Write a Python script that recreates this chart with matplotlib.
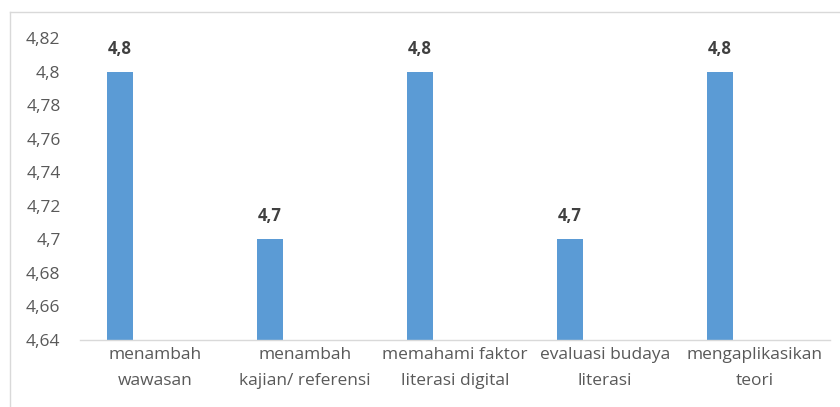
import matplotlib
matplotlib.use("Agg")
import matplotlib.pyplot as plt
from matplotlib.ticker import FuncFormatter, MultipleLocator
from matplotlib.lines import Line2D

categories = ["menambah\nwawasan", "menambah\nkajian/ referensi", "memahami faktor\nliterasi digital",
              "evaluasi budaya\nliterasi", "mengaplikasikan\nteori"]
values = [4.8, 4.7, 4.8, 4.7, 4.8]
value_labels = ["4,8", "4,7", "4,8", "4,7", "4,8"]

plt.rcParams['font.family'] = ['Open Sans', 'DejaVu Sans']

fig = plt.figure(figsize=(8.4, 4.07), dpi=100)
ax = fig.add_axes([80/840, (407-340)/407, (830-80)/840, (340-38)/407])

offset = -0.235
width = 0.175
xs = [i + offset for i in range(len(categories))]
ax.bar(xs, values, width=width, color="#5B9BD5", bottom=0)

for x, v, lab in zip(xs, values, value_labels):
    ax.annotate(lab, (x, v), xytext=(0, 10), textcoords="offset points",
                ha="center", va="bottom", fontsize=12, fontweight="bold", color="#404040")

ax.set_ylim(4.64, 4.82)
ax.set_xlim(-0.5, len(categories) - 0.5)
ax.yaxis.set_major_locator(MultipleLocator(0.02))

def fmt(v, pos):
    s = f"{v:.2f}".rstrip('0').rstrip('.')
    return s.replace('.', ',')

ax.yaxis.set_major_formatter(FuncFormatter(fmt))
ax.set_xticks(range(len(categories)))
ax.set_xticklabels(categories, fontsize=12.5, color="#595959", linespacing=1.8)
ax.tick_params(axis='y', length=0, labelsize=12.5, labelcolor="#595959", pad=14)
ax.tick_params(axis='x', length=0, pad=5)

for s in ["top", "right", "left"]:
    ax.spines[s].set_visible(False)
ax.spines["bottom"].set_color("#D9D9D9")
ax.spines["bottom"].set_linewidth(1)

# chart border (top and left visible)
fig.add_artist(Line2D([10/840, 1], [1 - 12/407, 1 - 12/407], transform=fig.transFigure, color="#D9D9D9", lw=1))
fig.add_artist(Line2D([10/840, 10/840], [0, 1 - 12/407], transform=fig.transFigure, color="#D9D9D9", lw=1))

fig.savefig("out.png", dpi=100)
